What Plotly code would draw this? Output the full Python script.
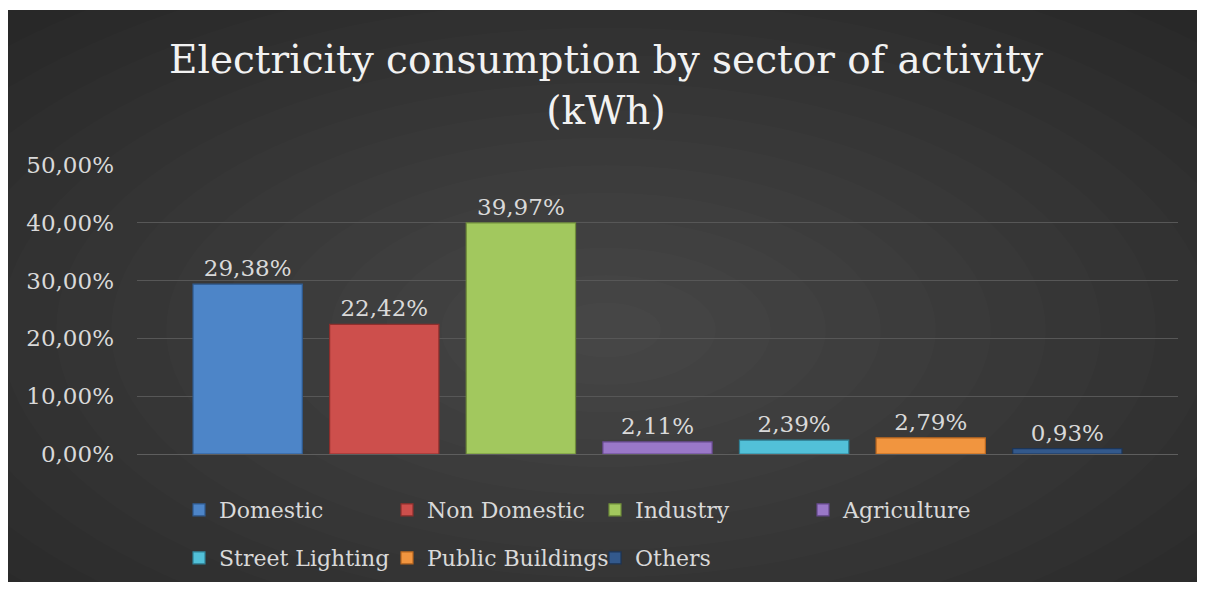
import plotly.graph_objects as go

# ---- data ----
categories = ["Domestic", "Non Domestic", "Industry", "Agriculture",
              "Street Lighting", "Public Buildings", "Others"]
shares = [0.2938, 0.2242, 0.3997, 0.0211, 0.0239, 0.0279, 0.0093]
bar_colors = ["#4d85c8", "#cd4f4c", "#a2c85e", "#9a78c8",
              "#52c0d8", "#f1953f", "#33598c"]
line_colors = ["#2f5a8f", "#8e2f2d", "#6f8d3a", "#65488c",
               "#2f8196", "#b8661f", "#1c3557"]
row1 = categories[:4]
row2 = categories[4:]
y_ticks = [0, 0.1, 0.2, 0.3, 0.4, 0.5]

# page body has an 8px margin; size figure so the page is exactly 1205x590
W, H = 1189, 574
L, R, T, B = 129, 19, 157, 128
pw, ph = W - L - R, H - T - B

def px_x(x):
    return (x - L) / pw

def px_y(y):
    return (H - B - y) / ph

SERIF = "DejaVu Serif"
TXT = "#d9d9d9"

fig = go.Figure()
for i, (cat, v) in enumerate(zip(categories, shares)):
    fig.add_trace(go.Bar(
        x=[i], y=[v], name=cat, width=0.8,
        marker=dict(color=bar_colors[i], line=dict(color=line_colors[i], width=1.2)),
        texttemplate="%{y:.2%}", textposition="outside", cliponaxis=False,
        textfont=dict(family=SERIF, size=23, color=TXT),
        legend="legend" if cat in row1 else "legend2",
        hoverinfo="skip",
    ))

shapes = [dict(type="rect", xref="paper", yref="paper", layer="below",
               x0=px_x(-5), x1=px_x(W + 5), y0=px_y(H + 5), y1=px_y(-5),
               fillcolor="#262626", line=dict(width=0))]
cx, cy = 598, 322
N = 16
for i in range(N):
    k = (N - i) / N
    rx, ry = 880 * k, 440 * k
    shapes.append(dict(type="circle", xref="paper", yref="paper", layer="below",
                       x0=px_x(cx - rx), x1=px_x(cx + rx),
                       y0=px_y(cy + ry), y1=px_y(cy - ry),
                       fillcolor="rgba(255,255,255,0.0125)", line=dict(width=0)))
# thin white strip at the top
shapes.append(dict(type="rect", xref="paper", yref="paper", layer="below",
                   x0=px_x(-5), x1=px_x(W + 5), y0=px_y(2), y1=px_y(-5),
                   fillcolor="white", line=dict(width=0)))

legend_common = dict(orientation="h", xanchor="left", yanchor="middle",
                     font=dict(family=SERIF, size=22, color=TXT),
                     bgcolor="rgba(0,0,0,0)", entrywidth=163, entrywidthmode="pixels",
                     itemclick=False, itemdoubleclick=False)

fig.update_layout(
    width=W, height=H,
    margin=dict(l=L, r=R, t=T, b=B, autoexpand=False),
    paper_bgcolor="white",
    plot_bgcolor="rgba(0,0,0,0)",
    separators=",.",
    barmode="overlay",
    shapes=shapes,
    title=dict(text="Electricity consumption by sector of activity<br>(kWh)",
               x=px_x(598), xref="paper", xanchor="center",
               y=1 - 65 / H, yanchor="middle",
               font=dict(family=SERIF, size=39, color="#f2f2f2")),
    xaxis=dict(range=[-0.81, 6.81], showticklabels=False, showgrid=False,
               zeroline=False, showline=False, fixedrange=True, automargin=False),
    yaxis=dict(range=[0, 0.5], tickvals=y_ticks, tickformat=".2%",
               showgrid=True, gridcolor="#575757", gridwidth=1,
               zeroline=True, zerolinecolor="#5e5e5e", zerolinewidth=1,
               showline=False, ticks="", ticklabelstandoff=22, automargin=False,
               tickfont=dict(family=SERIF, size=23, color=TXT), fixedrange=True),
    legend=dict(x=px_x(171), y=px_y(502), **legend_common),
    legend2=dict(x=px_x(171), y=px_y(550), **legend_common),
    showlegend=True,
)

fig.write_html("out.html")
